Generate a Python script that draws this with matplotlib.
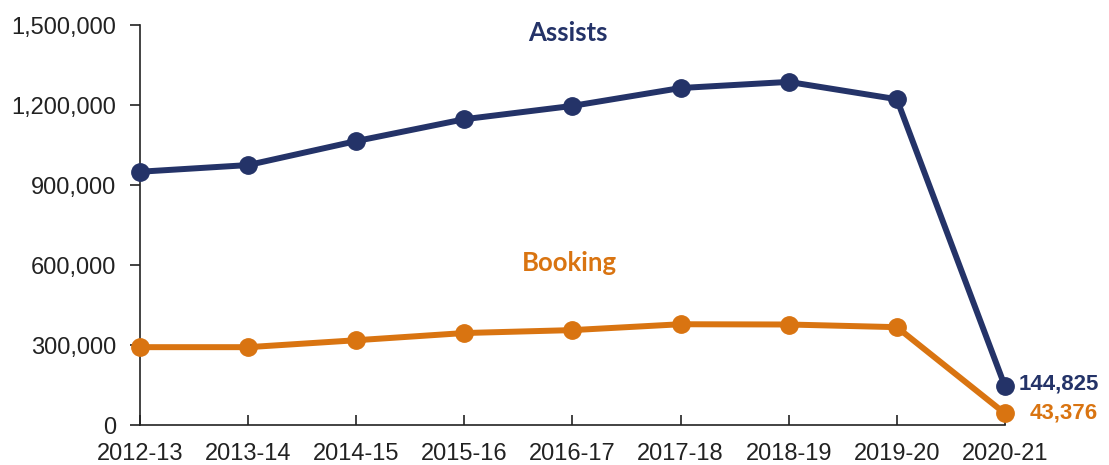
import matplotlib.pyplot as plt
from matplotlib.ticker import FuncFormatter

years = ["2012-13", "2013-14", "2014-15", "2015-16", "2016-17",
         "2017-18", "2018-19", "2019-20", "2020-21"]
assists = [950000, 975000, 1065000, 1147000, 1197000, 1264000, 1287000, 1222000, 144825]
booking = [292000, 292000, 318000, 345000, 356000, 378000, 377000, 367000, 43376]

navy = "#243368"
orange = "#D97411"

fig = plt.figure(figsize=(11.09, 4.65), dpi=100)
ax = fig.add_axes([0.1262, 0.086, 0.780, 0.860])

x = list(range(len(years)))
ax.plot(x, assists, color=navy, linewidth=4.3, marker="o", markersize=12.5, clip_on=False, zorder=3)
ax.plot(x, booking, color=orange, linewidth=4.3, marker="o", markersize=12.5, clip_on=False, zorder=3)

ax.set_xlim(0, 8)
ax.set_ylim(0, 1500000)
ax.set_yticks([0, 300000, 600000, 900000, 1200000, 1500000])
ax.yaxis.set_major_formatter(FuncFormatter(lambda v, p: f"{int(v):,}"))
ax.set_xticks(x)
ax.set_xticklabels(years)

for s in ["top", "right"]:
    ax.spines[s].set_visible(False)
for s in ["left", "bottom"]:
    ax.spines[s].set_color("#222222")
    ax.spines[s].set_linewidth(1.2)

ax.tick_params(axis="y", direction="out", length=7, width=1.2, color="#222222",
               labelsize=17, labelcolor="#222222", pad=10)
ax.tick_params(axis="x", direction="in", length=7, width=1.2, color="#222222",
               labelsize=17, labelcolor="#222222", pad=13)
for lab in ax.get_xticklabels() + ax.get_yticklabels():
    lab.set_family("Liberation Sans")

# series labels
ax.text(3.96, 1472000, "Assists", color=navy, fontsize=18.5, fontweight="bold",
        family="Lato", ha="center", va="center")
ax.text(3.97, 608000, "Booking", color=orange, fontsize=18.5, fontweight="bold",
        family="Lato", ha="center", va="center")

# end values
ax.text(8.13, assists[-1] + 8000, f"{assists[-1]:,}", color=navy, fontsize=16,
        fontweight="bold", family="Liberation Sans", ha="left", va="center")
ax.text(8.23, booking[-1], f"{booking[-1]:,}", color=orange, fontsize=16,
        fontweight="bold", family="Liberation Sans", ha="left", va="center")

fig.savefig("out.png", dpi=100)
